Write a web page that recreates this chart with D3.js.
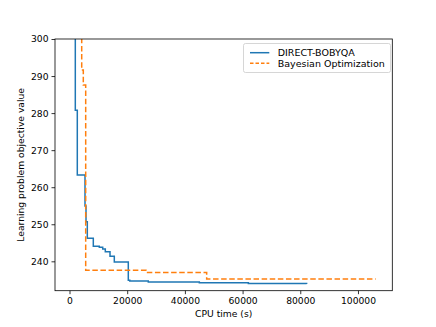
<!DOCTYPE html>
<html>
<head>
<meta charset="utf-8">
<script src="https://cdn.jsdelivr.net/npm/d3@7"></script>
<style>
  html, body { margin: 0; padding: 0; background: #fff; }
  svg { display: block; font-family: "DejaVu Sans", sans-serif; }
</style>
</head>
<body>
<svg id="chart" width="436" height="327"></svg>
<script>
// ---- data ----
const seriesNames = ["DIRECT-BOBYQA", "Bayesian Optimization"];
const directTime = [300, 2010, 2700, 5370, 5720, 6170, 8250, 10330, 11510, 12410, 14040, 15530, 20380, 20900, 27310, 45000, 62000, 82200];
const directValue = [420, 280.8, 263.3, 254.9, 250.7, 246.2, 244.1, 243.8, 243.3, 242.6, 241.4, 239.8, 234.9, 234.7, 234.4, 234.2, 234.0, 233.9];
const bayesTime = [300, 4230, 4780, 5610, 26510, 47550, 106130];
const bayesValue = [400, 291.6, 287.6, 237.6, 237.0, 235.2, 235.2];
const xTicks = [0, 20000, 40000, 60000, 80000, 100000];
const yTicks = [240, 250, 260, 270, 280, 290, 300];

// ---- layout ----
const svg = d3.select("#chart");
const L = 55, R = 392.3, T = 39, B = 290.7;
const x = d3.scaleLinear().domain([-5030, 111900]).range([L, R]);
const y = d3.scaleLinear().domain([232.07, 300]).range([B, T]);

svg.append("defs").append("clipPath").attr("id", "clip")
  .append("rect").attr("x", L).attr("y", T).attr("width", R - L).attr("height", B - T);

const line = d3.line().x(d => x(d[0])).y(d => y(d[1])).curve(d3.curveStepAfter);
const g = svg.append("g").attr("clip-path", "url(#clip)");

g.append("path")
  .datum(directTime.map((t, i) => [t, directValue[i]]))
  .attr("d", line).attr("fill", "none")
  .attr("stroke", "#1f77b4").attr("stroke-width", 1.5);

g.append("path")
  .datum(bayesTime.map((t, i) => [t, bayesValue[i]]))
  .attr("d", line).attr("fill", "none")
  .attr("stroke", "#ff7f0e").attr("stroke-width", 1.5)
  .attr("stroke-dasharray", "5.5,2.6");

// axes
const xAxis = d3.axisBottom(x).tickValues(xTicks).tickFormat(d3.format("d")).tickSizeOuter(0).tickSize(3.5).tickPadding(3);
const yAxis = d3.axisLeft(y).tickValues(yTicks).tickFormat(d3.format("d")).tickSizeOuter(0).tickSize(3.5).tickPadding(3);

const gx = svg.append("g").attr("transform", `translate(0,${B})`).call(xAxis);
const gy = svg.append("g").attr("transform", `translate(${L},0)`).call(yAxis);
[gx, gy].forEach(a => {
  a.select(".domain").remove();
  a.selectAll("text").attr("font-size", "9.2px").attr("fill", "#000").attr("font-family", "DejaVu Sans");
  a.selectAll("line").attr("stroke", "#000").attr("stroke-width", 0.8);
});

// frame
svg.append("rect").attr("x", L).attr("y", T).attr("width", R - L).attr("height", B - T)
  .attr("fill", "none").attr("stroke", "#000").attr("stroke-width", 0.8);

// labels
svg.append("text").attr("x", (L + R) / 2).attr("y", 316.5).attr("text-anchor", "middle")
  .attr("font-size", "9.2px").text("CPU time (s)");
svg.append("text").attr("transform", `translate(23.5,${(T + B) / 2}) rotate(-90)`)
  .attr("text-anchor", "middle").attr("font-size", "9.2px").text("Learning problem objective value");

// legend
const lg = svg.append("g");
lg.append("rect").attr("x", 243.5).attr("y", 43.5).attr("width", 147).attr("height", 29)
  .attr("rx", 2).attr("fill", "#fff").attr("fill-opacity", 0.8).attr("stroke", "#ccc").attr("stroke-width", 0.8);
const rows = [
  { name: seriesNames[0], color: "#1f77b4", dash: null, yy: 52.7 },
  { name: seriesNames[1], color: "#ff7f0e", dash: "3.5,2", yy: 63.3 }
];
rows.forEach(r => {
  lg.append("line").attr("x1", 250).attr("x2", 269.3).attr("y1", r.yy).attr("y2", r.yy)
    .attr("stroke", r.color).attr("stroke-width", 1.5).attr("stroke-dasharray", r.dash);
  lg.append("text").attr("x", 277.7).attr("y", r.yy + 3.4).attr("font-size", "9.5px").text(r.name);
});
</script>
</body>
</html>
